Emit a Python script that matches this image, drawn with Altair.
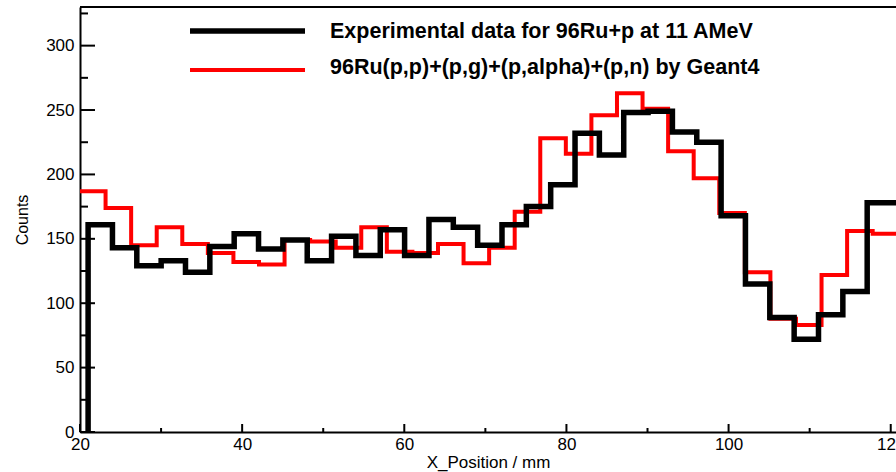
import altair as alt
import pandas as pd

# ---------------- values ----------------
black_counts = [161, 143, 129, 133, 124, 144, 154, 142, 149, 133,
                152, 137, 157, 137, 165, 159, 145, 161, 175, 192,
                232, 215, 248, 249, 233, 225, 168, 115, 89, 72,
                91, 109, 178, 178]
black_first_edge = 21.0
black_bin_width = 3.003

red_counts = [187, 174, 145, 159, 146, 139, 132, 130, 149, 148,
              143, 159, 140, 139, 146, 131, 143, 171, 228, 216,
              246, 263, 251, 218, 197, 170, 124, 88, 83, 122,
              156, 154]
red_first_edge = 20.0
red_bin_width = 3.154

x_major = [20, 40, 60, 80, 100, 120]
x_minor = [30, 50, 70, 90, 110]
y_major = [0, 50, 100, 150, 200, 250, 300]
y_minor = [25, 75, 125, 175, 225, 275, 325]
x_domain = [20, 120.65]
y_domain = [0, 330]

legend_labels = ["Experimental data for 96Ru+p at 11 AMeV",
                 "96Ru(p,p)+(p,g)+(p,alpha)+(p,n) by Geant4"]
x_title = "X_Position / mm"
y_title = "Counts"

# ---------------- helpers ----------------
def step_table(first_edge, width, counts, start_from_zero):
    xs, ys = [], []
    if start_from_zero:
        xs.append(first_edge)
        ys.append(0)
    for k, c in enumerate(counts):
        xs.append(first_edge + k * width)
        ys.append(c)
    xs.append(first_edge + len(counts) * width)
    ys.append(counts[-1])
    return pd.DataFrame({"x": xs, "y": ys, "i": list(range(len(xs)))})


black_df = step_table(black_first_edge, black_bin_width, black_counts, True)
red_df = step_table(red_first_edge, red_bin_width, red_counts, False)

W, H = 816, 425
FONT = "Liberation Sans"
xs = alt.Scale(domain=x_domain, nice=False, zero=False)
ys = alt.Scale(domain=y_domain, nice=False, zero=False)

x_axis = alt.Axis(values=x_major, title=x_title, grid=False,
                  ticks=False, tickSize=0, labelPadding=4,
                  labelFlush=False, labelOverlap=False,
                  labelFont=FONT, labelFontSize=17, labelColor="black",
                  domainColor="black", domainWidth=2,
                  titleFont=FONT, titleFontSize=17, titleFontWeight="normal",
                  titleColor="black", titleX=W / 2, titleY=35,
                  titleAlign="center", titleBaseline="alphabetic")
y_axis = alt.Axis(values=y_major, title=y_title, grid=False,
                  ticks=False, tickSize=0, labelPadding=6,
                  labelFlush=False, labelOverlap=False,
                  labelFont=FONT, labelFontSize=17, labelColor="black",
                  domainColor="black", domainWidth=2,
                  titleFont=FONT, titleFontSize=16, titleFontWeight="normal",
                  titleColor="black", titleX=-53, titleY=H / 2,
                  titleAngle=270, titleAlign="center",
                  titleBaseline="alphabetic")


def X():
    return alt.X("x:Q", scale=xs, axis=x_axis, title=x_title)


def Y():
    return alt.Y("y:Q", scale=ys, axis=y_axis, title=y_title)


red_line = alt.Chart(red_df).mark_line(
    color="#ff0000", strokeWidth=4, interpolate="step-after", clip=True
).encode(x=X(), y=Y(), order=alt.Order("i:Q"))

black_line = alt.Chart(black_df).mark_line(
    color="black", strokeWidth=5.5, interpolate="step-after", clip=True
).encode(x=X(), y=Y(), order=alt.Order("i:Q"))

# inward ticks (ROOT style)
y_major_ticks = alt.Chart(pd.DataFrame({"y": y_major})).mark_rule(
    color="black", strokeWidth=2).encode(
    y=Y(), x=alt.value(0), x2=alt.value(15))
y_minor_ticks = alt.Chart(pd.DataFrame({"y": y_minor})).mark_rule(
    color="black", strokeWidth=2).encode(
    y=Y(), x=alt.value(0), x2=alt.value(8))
x_major_ticks = alt.Chart(pd.DataFrame({"x": x_major})).mark_rule(
    color="black", strokeWidth=2).encode(
    x=X(), y=alt.value(H), y2=alt.value(H - 8))
x_minor_ticks = alt.Chart(pd.DataFrame({"x": x_minor})).mark_rule(
    color="black", strokeWidth=2).encode(
    x=X(), y=alt.value(H), y2=alt.value(H - 4))

# top frame line
frame_top = alt.Chart(pd.DataFrame({"k": [0]})).mark_rule(
    color="black", strokeWidth=2).encode(
    x=alt.value(0), x2=alt.value(W), y=alt.value(0))

# legend (no border, ROOT TLegend style)
leg_black_line = alt.Chart(pd.DataFrame({"label": [legend_labels[0]]})).mark_rule(
    color="black", strokeWidth=5.5).encode(
    x=alt.value(110), x2=alt.value(225), y=alt.value(24))
leg_red_line = alt.Chart(pd.DataFrame({"label": [legend_labels[1]]})).mark_rule(
    color="#ff0000", strokeWidth=4).encode(
    x=alt.value(110), x2=alt.value(225), y=alt.value(63))
leg_black_text = alt.Chart(pd.DataFrame({"label": [legend_labels[0]]})).mark_text(
    font=FONT, fontSize=21.5, fontWeight="bold", align="left",
    baseline="alphabetic", color="black").encode(
    x=alt.value(250), y=alt.value(30.5), text="label:N")
leg_red_text = alt.Chart(pd.DataFrame({"label": [legend_labels[1]]})).mark_text(
    font=FONT, fontSize=21.5, fontWeight="bold", align="left",
    baseline="alphabetic", color="black").encode(
    x=alt.value(250), y=alt.value(67), text="label:N")

chart = alt.layer(
    red_line, black_line,
    y_major_ticks, y_minor_ticks, x_major_ticks, x_minor_ticks,
    frame_top,
    leg_black_line, leg_red_line, leg_black_text, leg_red_text,
).properties(
    width=W, height=H,
    autosize=alt.AutoSizeParams(type="none"),
    padding={"left": 80, "top": 7, "right": 0, "bottom": 40},
    background="white",
).configure_view(strokeWidth=0)

chart.save("out.html", embed_options={"renderer": "svg", "actions": False})
